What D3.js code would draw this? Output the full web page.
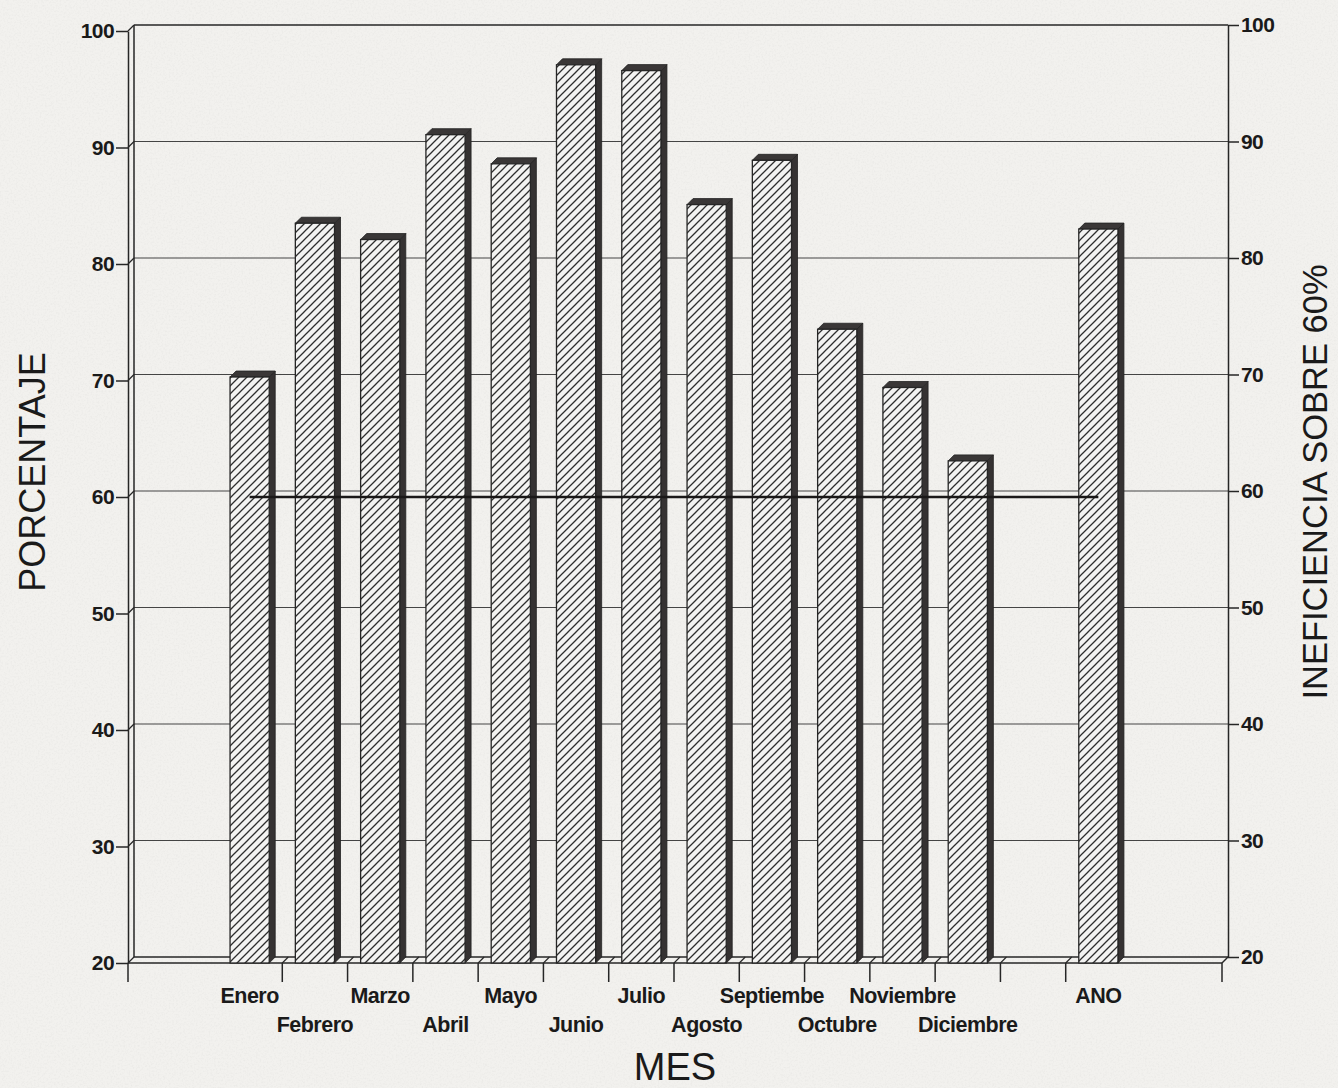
<!DOCTYPE html>
<html>
<head>
<meta charset="utf-8">
<script src="https://cdn.jsdelivr.net/npm/d3@7"></script>
<style>
  html, body { margin: 0; padding: 0; background: #f2f1ee; }
  svg { display: block; }
  text { font-family: "Liberation Sans", Arial, Helvetica, sans-serif; fill: #1a1a1a; }
</style>
</head>
<body>
<svg id="chart" width="1338" height="1088"></svg>
<script>
// Monthly percentages and the yearly figure
const months = ["Enero", "Febrero", "Marzo", "Abril", "Mayo", "Junio", "Julio",
                "Agosto", "Septiembe", "Octubre", "Noviembre", "Diciembre"];
const monthValues = [70.3, 83.5, 82.1, 91.1, 88.6, 97.1, 96.6, 85.1, 88.9, 74.4, 69.4, 63.1];
const annualLabel = "ANO";
const annualValue = 83.0;
const spacer = "";                       // empty slot between Diciembre and ANO
const yTicks = [20, 30, 40, 50, 60, 70, 80, 90, 100];
const threshold = 60;

const categories = [...months, spacer, annualLabel];
const bars = [
  ...months.map((m, i) => ({ cat: m, value: monthValues[i] })),
  { cat: annualLabel, value: annualValue }
];

const svg = d3.select("#chart");
const W = 1338, H = 1088;
const depth = 6;                         // 3D offset of the back wall
const plot = { left: 128, right: 1222, top: 31, bottom: 963 };

const yF = d3.scaleLinear().domain([20, 100]).range([plot.bottom, plot.top]);
const yB = d3.scaleLinear().domain([20, 100]).range([plot.bottom - depth, plot.top - depth]);
const x = d3.scaleBand().domain(categories).range([217, 1131]).padding(0);
const bw = x.bandwidth();
const barW = bw * 0.6;

const ink = "#262626";

// ---- defs: paper grain + hatch pattern
const defs = svg.append("defs");
const grain = defs.append("filter").attr("id", "grain")
  .attr("x", 0).attr("y", 0).attr("width", "100%").attr("height", "100%");
grain.append("feTurbulence").attr("type", "fractalNoise")
  .attr("baseFrequency", 0.55).attr("numOctaves", 3).attr("seed", 7).attr("result", "n");
grain.append("feColorMatrix").attr("in", "n").attr("type", "matrix")
  .attr("values", "0 0 0 0 0.45  0 0 0 0 0.45  0 0 0 0 0.44  0 0 0 -1.6 0.9");

const hatch = defs.append("pattern").attr("id", "hatch")
  .attr("patternUnits", "userSpaceOnUse").attr("width", 8).attr("height", 8);
hatch.append("rect").attr("width", 8).attr("height", 8).attr("fill", "#f3f3f2");
hatch.append("path").attr("d", "M-2,2 L2,-2 M0,8 L8,0 M6,10 L10,6")
  .attr("stroke", "#2e2e2e").attr("stroke-width", 1.3);

// ---- background
svg.append("rect").attr("width", W).attr("height", H).attr("fill", "#f2f1ee");
svg.append("rect").attr("width", W).attr("height", H).attr("filter", "url(#grain)").attr("opacity", 0.15);

// ---- back wall grid
const grid = svg.append("g");
grid.selectAll("line.h").data(yTicks.filter(v => v > 20)).join("line")
  .attr("x1", plot.left + depth).attr("x2", plot.right + depth)
  .attr("y1", d => yB(d)).attr("y2", d => yB(d))
  .attr("stroke", d => d === 100 ? ink : "#444")
  .attr("stroke-width", d => d === 100 ? 1.7 : 1.2);
grid.selectAll("line.d").data(yTicks).join("line")
  .attr("x1", plot.left).attr("y1", d => yF(d))
  .attr("x2", plot.left + depth).attr("y2", d => yB(d))
  .attr("stroke", ink).attr("stroke-width", 1.2);

// walls and floor edges
const edges = [
  [plot.left + depth, yB(100), plot.left + depth, yB(20)],
  [plot.left + depth, yB(20), plot.right + depth, yB(20)],
  [plot.left, yF(20), plot.right, yF(20)],
  [plot.right, yF(20), plot.right + depth, yB(20)]
];
grid.selectAll("line.e").data(edges).join("line")
  .attr("x1", d => d[0]).attr("y1", d => d[1]).attr("x2", d => d[2]).attr("y2", d => d[3])
  .attr("stroke", ink).attr("stroke-width", 1.5);

// category separators across the floor
const tickXs = [plot.left, ...categories.slice(1).map(c => x(c)), plot.right];
grid.selectAll("line.f").data(tickXs.slice(1, -1)).join("line")
  .attr("x1", d => d).attr("y1", yF(20)).attr("x2", d => d + depth).attr("y2", yB(20))
  .attr("stroke", ink).attr("stroke-width", 1.1);

// ---- 3D bars
const gBars = svg.append("g");
const bar = gBars.selectAll("g").data(bars).join("g");
// right side face
bar.append("path")
  .attr("d", d => {
    const x1 = x(d.cat) + (bw - barW) / 2 + barW, t = yF(d.value), b = yF(20);
    return `M${x1},${b} L${x1 + depth},${b - depth} L${x1 + depth},${t - depth} L${x1},${t} Z`;
  })
  .attr("fill", "#353232").attr("stroke", "#222").attr("stroke-width", 0.8);
// top face
bar.append("path")
  .attr("d", d => {
    const x0 = x(d.cat) + (bw - barW) / 2, t = yF(d.value);
    return `M${x0},${t} L${x0 + depth},${t - depth} L${x0 + barW + depth},${t - depth} L${x0 + barW},${t} Z`;
  })
  .attr("fill", "#3a3737").attr("stroke", "#222").attr("stroke-width", 0.8);
// front face
bar.append("rect")
  .attr("x", d => x(d.cat) + (bw - barW) / 2)
  .attr("y", d => yF(d.value))
  .attr("width", barW)
  .attr("height", d => yF(20) - yF(d.value))
  .attr("fill", "url(#hatch)").attr("stroke", "#262626").attr("stroke-width", 1.3);

// ---- 60% reference line
svg.append("line")
  .attr("x1", x(months[0]) + bw / 2).attr("x2", x(annualLabel) + bw / 2)
  .attr("y1", yF(threshold)).attr("y2", yF(threshold))
  .attr("stroke", "#1a1818").attr("stroke-width", 2.6);

// ---- axes
const leftAxis = svg.append("g").attr("transform", `translate(${plot.left},0)`)
  .call(d3.axisLeft(yF).tickValues(yTicks).tickSize(12).tickSizeOuter(0).tickPadding(2));
const rightAxis = svg.append("g").attr("transform", `translate(${plot.right + depth},0)`)
  .call(d3.axisRight(yB).tickValues(yTicks).tickSize(11).tickSizeOuter(0).tickPadding(2));
[leftAxis, rightAxis].forEach(a => {
  a.select(".domain").attr("stroke", ink).attr("stroke-width", 1.5);
  a.selectAll(".tick line").attr("stroke", ink).attr("stroke-width", 1.5);
  a.selectAll(".tick text")
    .style("font-family", '"Liberation Sans", Arial, sans-serif')
    .style("font-size", "21px").style("font-weight", "bold")
    .attr("fill", "#1a1a1a").style("letter-spacing", "-0.6px");
});

// bottom ticks
svg.append("g").selectAll("line").data(tickXs).join("line")
  .attr("x1", d => d).attr("x2", d => d)
  .attr("y1", yF(20)).attr("y2", yF(20) + 19)
  .attr("stroke", ink).attr("stroke-width", 1.5);

// category labels, staggered on two rows
svg.append("g").selectAll("text").data(bars).join("text")
  .attr("x", d => x(d.cat) + bw / 2)
  .attr("y", d => (d.cat === annualLabel ? 0 : months.indexOf(d.cat) % 2) === 0 ? 1003 : 1032)
  .attr("text-anchor", "middle")
  .style("font-size", "21.5px").style("font-weight", "bold").style("letter-spacing", "-0.5px")
  .text(d => d.cat);

// ---- titles
svg.append("text").attr("transform", "translate(45,472) rotate(-90)")
  .attr("text-anchor", "middle").style("font-size", "36px").text("PORCENTAJE");
svg.append("text").attr("transform", "translate(1327,482) rotate(-90)")
  .attr("text-anchor", "middle").style("font-size", "34.5px").text("INEFICIENCIA SOBRE 60%");
svg.append("text").attr("x", (plot.left + plot.right) / 2).attr("y", 1080)
  .attr("text-anchor", "middle").style("font-size", "38px").text("MES");
</script>
</body>
</html>
